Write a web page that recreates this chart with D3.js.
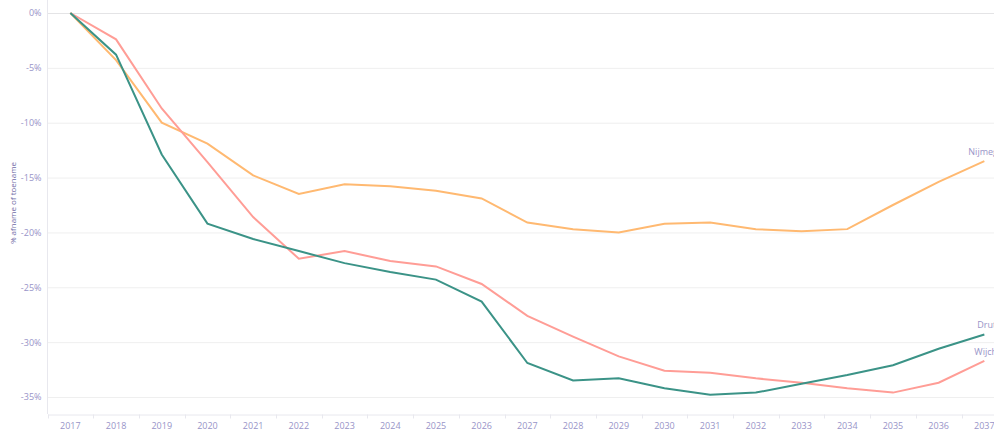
<!DOCTYPE html>
<html>
<head>
<meta charset="utf-8">
<style>
    body { margin: 0; background: #fff; }
    .axis text { font-family: "Open Sans", sans-serif; font-size: 9px; fill: #9894c8; }
    .axis path, .axis line { stroke: #e8e8ee; }
    .grid line { stroke: #efefef; }
    .line { fill: none; stroke-width: 2; }
    .label { font-family: "Open Sans", sans-serif; font-size: 9px; fill: #9894c8; }
</style>
</head>
<body>
<div id="chart"></div>
<script src="https://d3js.org/d3.v7.min.js"></script>
<script>
    // years on the x axis
    const years = d3.range(2017, 2038).map(String);

    // % change compared to 2017
    const druten = [0, -3.8, -12.9, -19.2, -20.6, -21.7, -22.8, -23.6, -24.3, -26.3, -31.9,
        -33.5, -33.3, -34.2, -34.8, -34.6, -33.8, -33.0, -32.1, -30.6, -29.3];
    const wijchen = [0, -2.4, -8.7, -13.6, -18.6, -22.4, -21.7, -22.6, -23.1, -24.7, -27.6,
        -29.5, -31.3, -32.6, -32.8, -33.3, -33.7, -34.2, -34.6, -33.7, -31.7];
    const nijmegen = [0, -4.3, -10.0, -11.9, -14.8, -16.5, -15.6, -15.8, -16.2, -16.9, -19.1,
        -19.7, -20.0, -19.2, -19.1, -19.7, -19.9, -19.7, -17.5, -15.4, -13.5];

    const yTicks = [0, -5, -10, -15, -20, -25, -30, -35];

    const series = [
        { name: "Nijmegen", values: nijmegen, color: "#ffb971", dx: -16 },
        { name: "Wijchen", values: wijchen, color: "#ff9d96", dx: -10 },
        { name: "Druten", values: druten, color: "#3b9387", dx: -7 }
    ];

    const width = 994, height = 432;
    const svg = d3.select("#chart").append("svg")
        .attr("width", width)
        .attr("height", height);

    const x = d3.scaleBand()
        .domain(years)
        .range([47.5, 47.5 + 45.7 * years.length]);

    const y = d3.scaleLinear()
        .domain([-36.55, 0])
        .range([414, 13]);

    // gridlines
    svg.append("g")
        .attr("class", "grid")
        .selectAll("line")
        .data(yTicks.filter(d => d !== 0))
        .enter()
        .append("line")
        .attr("x1", 47.5)
        .attr("x2", width)
        .attr("y1", d => y(d) + 0.5)
        .attr("y2", d => y(d) + 0.5);

    // zero line
    svg.append("line")
        .attr("x1", 47.5)
        .attr("x2", width)
        .attr("y1", y(0) + 0.5)
        .attr("y2", y(0) + 0.5)
        .attr("stroke", "#c8c8cc")
        .attr("stroke-dasharray", "1,1");

    // y axis
    const yAxis = d3.axisLeft(y)
        .tickValues(yTicks)
        .tickSize(0)
        .tickPadding(6)
        .tickFormat(d => d + "%");
    svg.append("g")
        .attr("class", "axis")
        .attr("transform", "translate(47.5,0)")
        .call(yAxis)
        .call(g => g.select(".domain").attr("d", "M0,0V414"));

    // x axis
    const xAxis = d3.axisBottom(x).tickSize(0).tickPadding(8);
    const xg = svg.append("g")
        .attr("class", "axis")
        .attr("transform", "translate(0,414.5)")
        .call(xAxis);
    xg.select(".domain").attr("stroke", "#eeeeee");
    xg.selectAll(".sep")
        .data(years)
        .enter()
        .append("line")
        .attr("class", "sep")
        .attr("x1", d => Math.round(x(d)) + 0.5)
        .attr("x2", d => Math.round(x(d)) + 0.5)
        .attr("y1", 0)
        .attr("y2", 4)
        .attr("stroke", "#e6e6ea");

    // axis title
    svg.append("text")
        .attr("transform", "translate(16,203) rotate(-90)")
        .attr("text-anchor", "middle")
        .attr("font-family", "Open Sans, sans-serif")
        .attr("font-size", 8)
        .attr("fill", "#6f6ba6")
        .text("% afname of toename");

    const line = d3.line()
        .x((d, i) => x(years[i]) + x.bandwidth() / 2)
        .y(d => y(d));

    series.forEach(s => {
        svg.append("path")
            .datum(s.values)
            .attr("class", "line")
            .attr("stroke", s.color)
            .attr("d", line);

        const last = s.values.length - 1;
        svg.append("text")
            .attr("class", "label")
            .attr("x", x(years[last]) + x.bandwidth() / 2 + s.dx)
            .attr("y", y(s.values[last]) - 6)
            .text(s.name);
    });
</script>
</body>
</html>
